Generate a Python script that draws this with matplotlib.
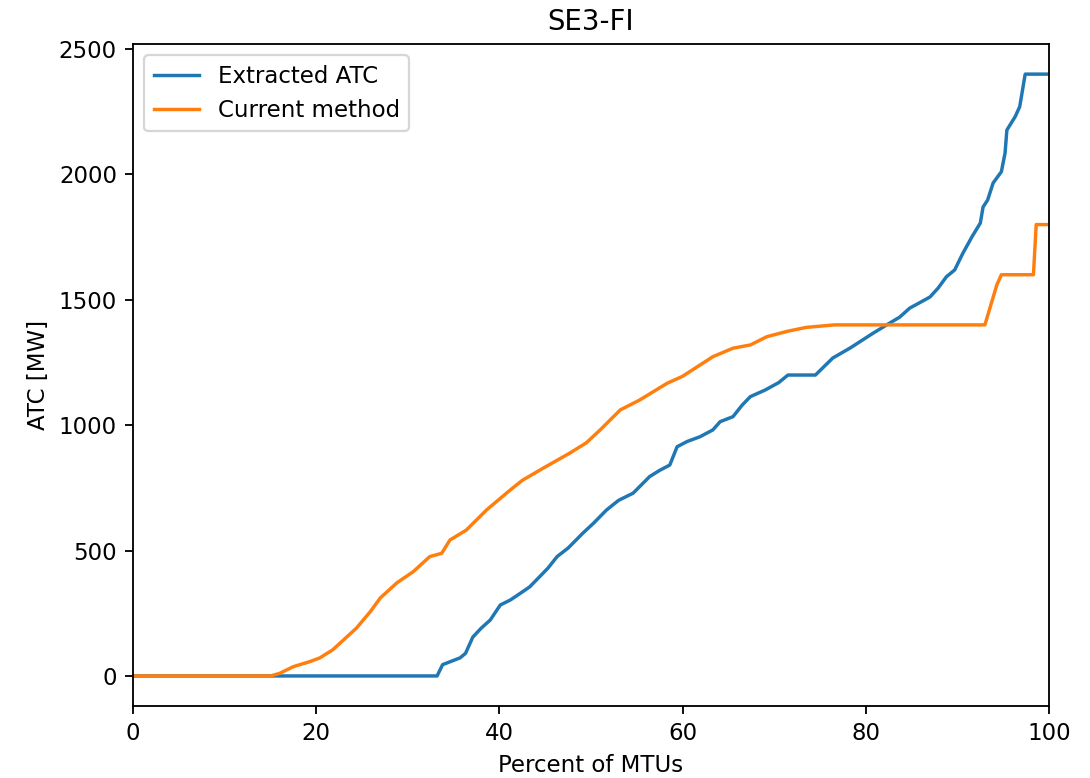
import matplotlib
matplotlib.use("Agg")
import matplotlib.pyplot as plt

# values (percent of MTUs, ATC in MW)
extracted_x = [0, 33.2, 33.8, 34.5, 35.7, 36.3, 37.1, 38.0, 39.0, 40.1, 41.2, 42.3, 43.3,
               44.4, 45.3, 46.3, 47.5, 49.1, 50.3, 51.7, 53.0, 54.6, 56.4, 57.5, 58.6,
               59.4, 60.5, 61.9, 63.3, 64.1, 65.5, 66.5, 67.4, 69.0, 70.5, 71.5, 74.5,
               76.4, 78.3, 80.8, 82.6, 83.7, 84.8, 87.0, 87.9, 88.8, 89.7, 90.6, 91.6,
               92.5, 92.8, 93.3, 93.9, 94.8, 95.2, 95.4, 96.3, 96.8, 97.4, 100]
extracted_y = [0, 0, 45, 55, 72, 90, 155, 190, 223, 283, 303, 330, 355,
               396, 430, 476, 510, 569, 610, 662, 700, 729, 795, 820, 841,
               914, 935, 954, 981, 1014, 1034, 1080, 1114, 1140, 1170, 1200, 1200,
               1268, 1308, 1367, 1407, 1431, 1467, 1511, 1547, 1592, 1619, 1686, 1752,
               1806, 1870, 1898, 1966, 2011, 2085, 2177, 2230, 2270, 2400, 2400]

current_x = [0, 15.0, 16.0, 17.5, 19.3, 20.4, 21.8, 23.0, 24.4, 25.9, 27.0, 28.8, 30.6,
             32.4, 33.7, 34.6, 36.4, 38.6, 41.2, 42.5, 44.8, 47.7, 49.5, 51.0, 53.2,
             55.3, 58.3, 60.0, 61.9, 63.3, 65.5, 67.4, 69.2, 71.5, 73.5, 76.6, 93.0,
             94.3, 94.8, 98.3, 98.6, 100]
current_y = [0, 0, 10, 37, 57, 72, 104, 144, 191, 256, 311, 371, 416,
             476, 489, 542, 582, 662, 742, 780, 829, 889, 930, 981, 1061,
             1100, 1167, 1195, 1240, 1273, 1307, 1320, 1353, 1375, 1390, 1400, 1400,
             1559, 1600, 1600, 1800, 1800]


def main():
    fig = plt.figure(figsize=(1090 / 165, 778 / 165), dpi=165)
    ax = fig.add_axes([0.122, 0.0925, 0.8404, 0.8509])
    ax.plot(extracted_x, extracted_y, label="Extracted ATC")
    ax.plot(current_x, current_y, label="Current method")
    ax.set_xlim(0, 100)
    ax.set_title("SE3-FI")
    ax.set_xlabel("Percent of MTUs")
    ax.set_ylabel("ATC [MW]")
    ax.legend(loc="upper left")
    fig.savefig("out.png", dpi=165)


if __name__ == "__main__":
    main()
